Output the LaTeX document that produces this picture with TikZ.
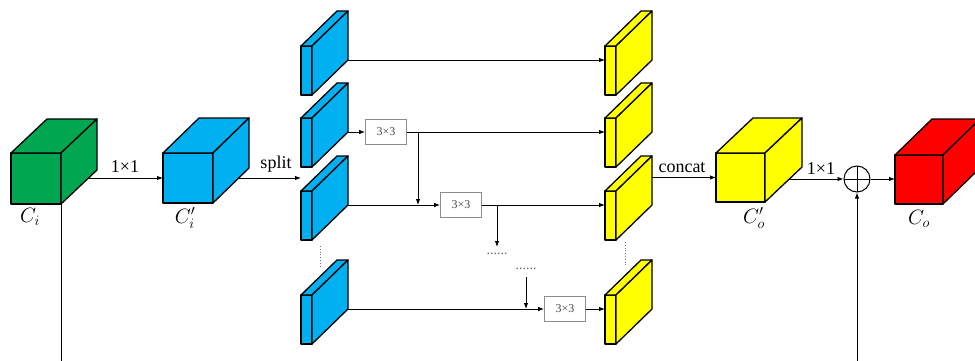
\documentclass[tikz,border=0pt]{standalone}
\usepackage{fontspec}
\setmainfont{Liberation Serif}
\usetikzlibrary{arrows.meta}
\pgfdeclarelayer{bg}
\pgfsetlayers{bg,main}
\definecolor{cgreen}{RGB}{0,166,80}
\definecolor{cblue}{RGB}{0,176,240}
\definecolor{cyellow}{RGB}{255,255,0}
\definecolor{cred}{RGB}{255,0,0}
\definecolor{dotcol}{RGB}{150,105,100}

% #1 name, #2/#3 front top-left corner, #4 width, #5 height,
% #6 depth to the right, #7 depth upwards, #8 fill colour
\newcommand{\blockcube}[8]{%
  \begin{scope}[shift={(#2,#3)}]
    \filldraw[fill=#8, edge] (0,0) rectangle (#4,#5);
    \filldraw[fill=#8, edge] (0,0) -- (#6,-#7) -- ({#4+#6},-#7) -- (#4,0) -- cycle;
    \filldraw[fill=#8, edge] (#4,0) -- ({#4+#6},-#7) -- ({#4+#6},{#5-#7}) -- (#4,#5) -- cycle;
    \coordinate (#1-w) at (0,{#5/2});
    \coordinate (#1-c) at ({#4/2},{#5/2});
    \coordinate (#1-se) at (#4,#5);
    \coordinate (#1-b) at ({#4+#6},{#5-#7});
  \end{scope}}

\tikzset{
  edge/.style={draw=black, line width=1.3pt, line join=round},
  conn/.style={line width=0.9pt, -{Latex[length=6pt,width=4.5pt]}},
  plain/.style={line width=0.9pt},
  tbox/.style={draw=gray!90, fill=white, line width=0.7pt, minimum width=41pt,
    minimum height=25pt, inner sep=0pt, font=\fontsize{12}{14}\selectfont,
    text=gray!60!black},
  lab/.style={font=\fontsize{18}{20}\selectfont, anchor=base, inner sep=0pt},
  clab/.style={font=\fontsize{20}{22}\selectfont, inner sep=0pt},
  ellip/.style={font=\fontsize{14}{16}\selectfont, text=gray!80!black, inner sep=0pt, anchor=base},
  vdots/.style={draw=dotcol, line width=0.8pt, dotted},
  oplus/.style={circle, draw, line width=1pt, minimum size=26pt, inner sep=0pt,
    path picture={\draw[line width=1pt]
      (path picture bounding box.north) -- (path picture bounding box.south)
      (path picture bounding box.west) -- (path picture bounding box.east);}}
}

\begin{document}
\begin{tikzpicture}[x=1pt, y=-1pt]
\useasboundingbox (0,0) rectangle (975,361);

% feature blocks
\blockcube{g}{11}{153}{50}{51}{36}{34}{cgreen}
\blockcube{bc}{163}{153}{50}{50}{36}{35}{cblue}
\blockcube{yc}{716}{153}{49}{49}{37}{35}{cyellow}
\blockcube{rc}{895}{155}{48}{49}{37}{36}{cred}

% split groups
\blockcube{bs1}{301}{46}{11}{49}{36}{35}{cblue}
\blockcube{bs2}{301}{118}{11}{49}{36}{35}{cblue}
\blockcube{bs3}{301}{191}{11}{49}{36}{35}{cblue}
\blockcube{bs4}{301}{295}{11}{49}{36}{35}{cblue}
\blockcube{ys1}{605}{46}{11}{49}{36}{35}{cyellow}
\blockcube{ys2}{605}{118}{11}{49}{36}{35}{cyellow}
\blockcube{ys3}{605}{191}{11}{49}{36}{35}{cyellow}
\blockcube{ys4}{605}{295}{11}{49}{36}{35}{cyellow}

% 3x3 convolutions
\node[tbox] (t1) at (386,132) {3×3};
\node[tbox] (t2) at (461,205) {3×3};
\node[tbox] (t3) at (565,309) {3×3};

% residual sum
\node[oplus] (op) at (857,179) {};

% labels
\node[lab] at (125,172) {1×1};
\node[lab] at (276,168) {split};
\node[lab] at (682,172) {concat};
\node[lab] at (821,174) {1×1};
\node[clab] at (30,217) {$C_i$};
\node[clab] at (185,218) {$C_i'$};
\node[clab] at (754,218) {$C_o'$};
\node[clab] at (919,219) {$C_o$};

% omitted groups
\node[ellip] (d1) at (497,254) {......};
\node[ellip] (d2) at (526,269) {......};
\draw[vdots] (320,246) -- (320,268);
\draw[vdots] (625,242) -- (625,267);

\coordinate (br1) at (418,132);
\coordinate (br2) at (497,205);
\coordinate (br2e) at (497,247);
\coordinate (br3) at (526,277);
\coordinate (gbot) at (61,361);
\coordinate (obot) at (857,361);

\begin{pgfonlayer}{bg}
  \draw[conn] (g-c |- bc-w) -- (bc-w);
  \draw[conn] (bc-c |- bc-w) -- (bc-w -| bs3-w);
  \draw[conn] (bs1-b) -- (bs1-b -| ys1-w);
  \draw[conn] (bs2-b) -- (t1.west);
  \draw[conn] (t1.east) -- (t1.east -| ys2-w);
  \draw[conn] (br1) -- (br1 |- bs3-b);
  \draw[conn] (bs3-b) -- (t2.west);
  \draw[conn] (t2.east) -- (t2.east -| ys3-w);
  \draw[conn] (br2) -- (br2e);
  \draw[conn] (br3) -- (br3 |- bs4-b);
  \draw[conn] (bs4-b) -- (t3.west);
  \draw[conn] (t3.east) -- (t3.east -| ys4-w);
  \draw[conn] (ys3-b |- yc-w) -- (yc-w);
  \draw[conn] (yc-c |- op) -- (op.west);
  \draw[conn] (op.east) -- (op.east -| rc-w);
  \draw[plain] (g-se) -- (gbot);
  \draw[conn] (obot) -- (op.south);
\end{pgfonlayer}
\end{tikzpicture}
\end{document}
